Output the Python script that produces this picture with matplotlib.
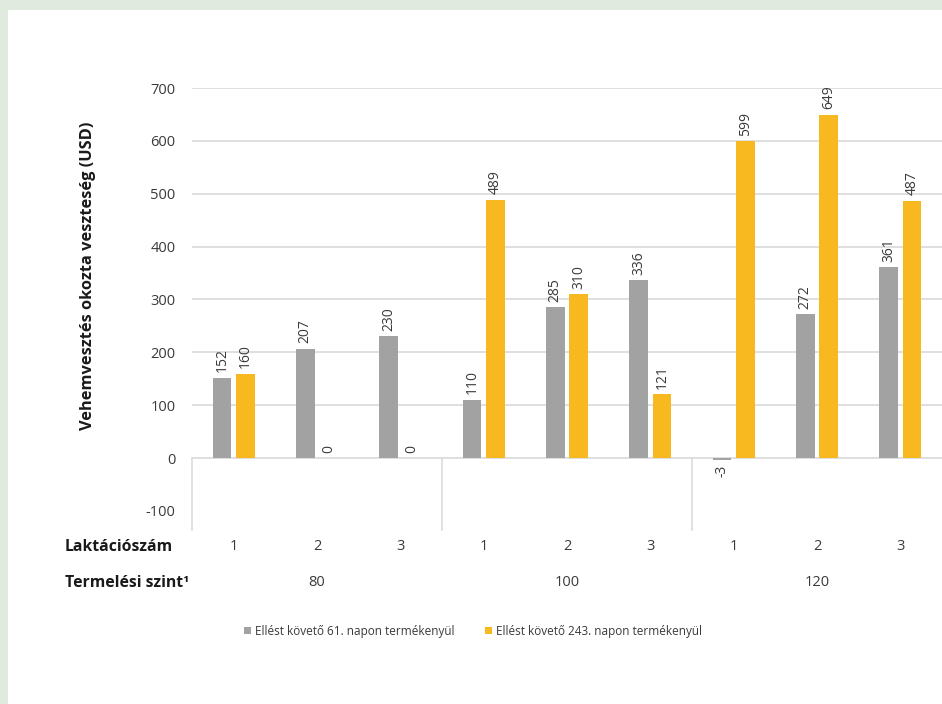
import matplotlib
matplotlib.use("Agg")
import matplotlib.pyplot as plt
from matplotlib.patches import Rectangle
import numpy as np

plt.rcParams['font.family'] = ['Open Sans', 'DejaVu Sans']

lactation = ["1", "2", "3", "1", "2", "3", "1", "2", "3"]
production_levels = ["80", "100", "120"]
series_names = ["Ellést követő 61. napon termékenyül",
                "Ellést követő 243. napon termékenyül"]
day61 = [152, 207, 230, 110, 285, 336, -3, 272, 361]
day243 = [160, 0, 0, 489, 310, 121, 599, 649, 487]
yticks = [-100, 0, 100, 200, 300, 400, 500, 600, 700]

grey = "#a2a2a2"
gold = "#f8b920"
text_col = "#3a3a3a"
grid_col = "#dcdcdc"

W, H = 942, 704
fig = plt.figure(figsize=(W / 100, H / 100), dpi=100)
fig.patch.set_facecolor("white")

# light green frame on the top and left edges
fig.add_artist(Rectangle((0, 0), 8 / W, 1, transform=fig.transFigure,
                         facecolor="#e1eadf", edgecolor="none", zorder=0))
fig.add_artist(Rectangle((0, 1 - 10 / H), 1, 10 / H, transform=fig.transFigure,
                         facecolor="#e1eadf", edgecolor="none", zorder=0))

ax_l, ax_r, ax_t, ax_b = 192, 942, 88, 530
ax = fig.add_axes([ax_l / W, 1 - ax_b / H, (ax_r - ax_l) / W, (ax_b - ax_t) / H])
ax.set_facecolor("none")

x = np.arange(len(lactation))
off, bw = 0.14, 0.222
ax.bar(x - off, day61, bw, color=grey, zorder=3, label=series_names[0])
ax.bar(x + off, day243, bw, color=gold, zorder=3, label=series_names[1])

ax.set_xlim(-0.5, len(lactation) - 0.5)
ax.set_ylim(-136, 700)

# horizontal gridlines
for v in yticks:
    if v >= 0:
        ax.axhline(v, color=grid_col, lw=1.3, zorder=1)

# vertical separators of the category table below zero
for xs in [-0.5, 2.5, 5.5]:
    ax.plot([xs, xs], [0, -136], color=grid_col, lw=1.2, zorder=1,
            clip_on=False)

ax.set_yticks(yticks)
ax.set_yticklabels([str(v) for v in yticks], fontsize=10.5, color=text_col)
ax.tick_params(axis="y", length=0, pad=12)
ax.set_xticks([])
for s in ax.spines.values():
    s.set_visible(False)

# value labels
def label_bars(xpos, vals):
    for xi, v in zip(xpos, vals):
        if v >= 0:
            ax.annotate(str(v), (xi, v), xytext=(0, 4), textcoords="offset points",
                        rotation=90, ha="center", va="bottom", fontsize=10,
                        color=text_col, zorder=4)
        else:
            ax.annotate(str(v), (xi, v), xytext=(0, -4), textcoords="offset points",
                        rotation=90, ha="center", va="top", fontsize=10,
                        color=text_col, zorder=4)

label_bars(x - off, day61)
label_bars(x + off, day243)

# category axis rows
def axes_y(py):
    return (ax_b - py) / (ax_b - ax_t)

trans = ax.get_xaxis_transform()
for xi, lab in zip(x, lactation):
    ax.text(xi, axes_y(547), lab, transform=trans, ha="center", va="center",
            fontsize=10.5, color=text_col, clip_on=False)
for gi, lab in enumerate(production_levels):
    ax.text(gi * 3 + 1, axes_y(583), lab, transform=trans, ha="center",
            va="center", fontsize=10.5, color=text_col, clip_on=False)

fig.text(65 / W, 1 - 547 / H, "Laktációszám", ha="left", va="center",
         fontsize=11.3, fontweight="bold", color="#1a1a1a")
fig.text(65 / W, 1 - 583 / H, "Termelési szint¹", ha="left", va="center",
         fontsize=11.3, fontweight="bold", color="#1a1a1a")

fig.text(88 / W, 1 - 276 / H, "Vehemvesztés okozta veszteség (USD)",
         rotation=90, ha="center", va="center", fontsize=11.8,
         fontweight="bold", color="#1a1a1a")

fig.legend(loc="center", bbox_to_anchor=(473 / W, 1 - 631 / H), ncol=2,
           frameon=False, fontsize=8.5, handlelength=0.6, handleheight=0.6,
           handletextpad=0.3, columnspacing=2.6, labelcolor=text_col)

fig.savefig("out.png", dpi=100, facecolor=fig.get_facecolor())
